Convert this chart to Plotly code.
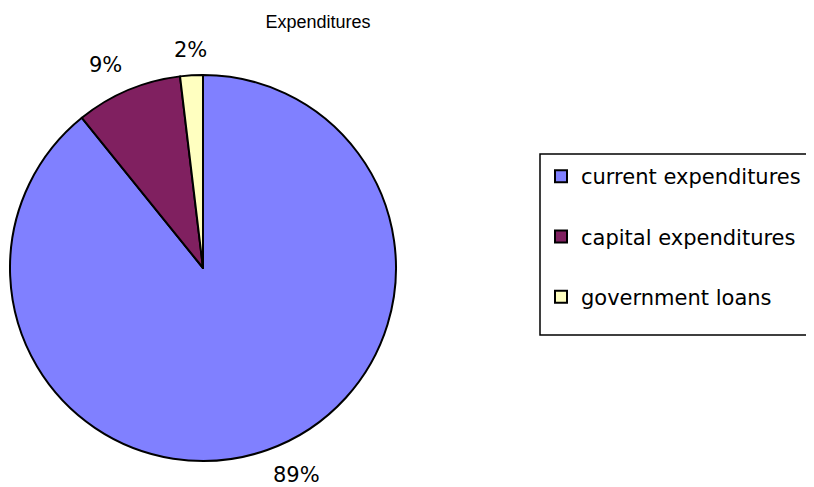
import math
import plotly.graph_objects as go

# Expenditures breakdown (shares in %)
categories = ["current expenditures", "capital expenditures", "government loans"]
shares = [89.2, 8.9, 1.9]
slice_colors = ["#8080FF", "#802060", "#FFFFC0"]

W, H = 814, 487
# the page body adds an 8px margin, so pixel targets are shifted by that
OFF = 8
cx, cy, r = 203 - OFF, 268 - OFF, 193


def px(x):
    return x / W


def py(y):
    return 1 - y / H


fig = go.Figure()

fig.add_trace(go.Pie(
    labels=categories,
    values=shares,
    sort=False,
    direction="clockwise",
    rotation=0,
    marker=dict(colors=slice_colors, line=dict(color="black", width=2)),
    textinfo="none",
    showlegend=False,
    domain=dict(x=[px(cx - r), px(cx + r)], y=[py(cy + r), py(cy - r)]),
    hoverinfo="label+percent",
))

# percentage labels just outside each slice, Excel style (no leader lines)
total = sum(shares)
start = 0.0
for v in shares:
    mid = (start + v / 2) / total * 2 * math.pi
    start += v
    s, c = math.sin(mid), math.cos(mid)
    ax = cx + 1.06 * r * s
    ay = cy - 1.06 * r * c
    xa = "center" if abs(s) < 0.1 else ("left" if s > 0 else "right")
    ya = "bottom" if c > 0 else "top"
    fig.add_annotation(
        x=px(ax), y=py(ay), xref="paper", yref="paper",
        text=f"{round(v / total * 100)}%", showarrow=False,
        xanchor=xa, yanchor=ya,
        font=dict(family="DejaVu Sans", size=21, color="black"),
    )

# legend entries, one group per category so the rows can be spaced out
for name, col in zip(categories, slice_colors):
    fig.add_trace(go.Scatter(
        x=[None], y=[None], mode="markers", name=name, legendgroup=name,
        marker=dict(symbol="square", size=15, color=col,
                    line=dict(color="black", width=1.5)),
    ))

# legend frame (drawn as a shape so it can be taller than the entries)
fig.add_shape(type="rect", xref="paper", yref="paper",
              x0=px(540 - OFF), x1=px(813 - OFF), y0=py(335 - OFF), y1=py(154 - OFF),
              line=dict(color="black", width=1.5), fillcolor="rgba(0,0,0,0)", layer="above")

fig.update_layout(
    width=W, height=H,
    margin=dict(l=0, r=0, t=0, b=0),
    paper_bgcolor="white", plot_bgcolor="white",
    xaxis=dict(visible=False), yaxis=dict(visible=False),
    title=dict(text="Expenditures", x=px(318 - OFF), xanchor="center",
               y=py(22 - OFF), yanchor="middle",
               font=dict(family="Liberation Sans", size=18, color="black")),
    legend=dict(x=px(541 - OFF), y=py(156 - OFF), xanchor="left", yanchor="top",
                borderwidth=0, bgcolor="rgba(0,0,0,0)",
                tracegroupgap=30, itemsizing="constant",
                font=dict(family="DejaVu Sans", size=21, color="black")),
)

fig.write_html("out.html")
